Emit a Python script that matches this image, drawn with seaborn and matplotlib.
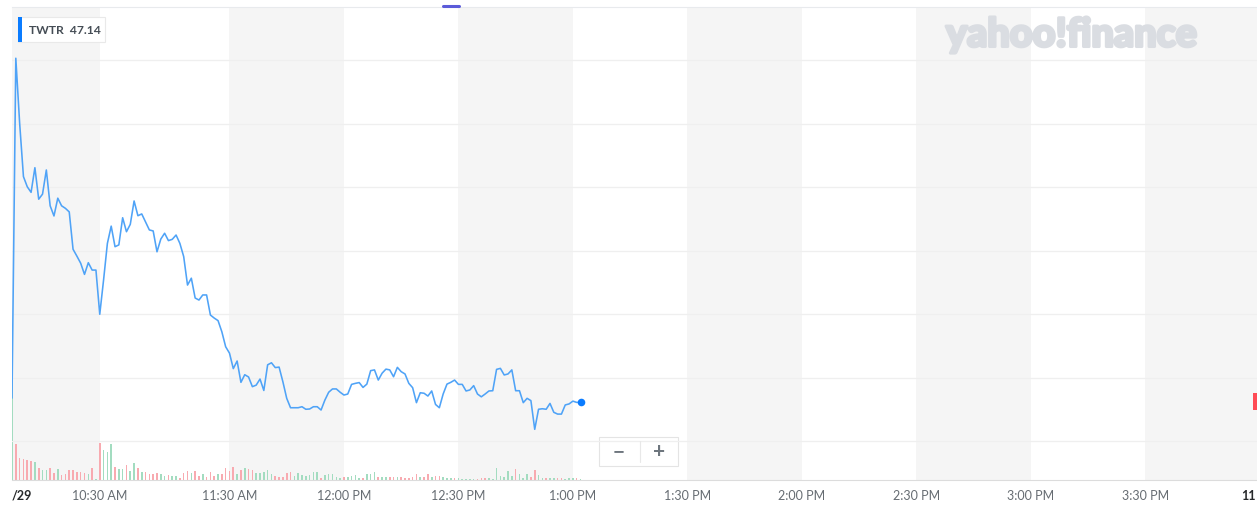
import numpy as np
import pandas as pd
import matplotlib.pyplot as plt
import matplotlib.patheffects as pe
from matplotlib.patches import FancyBboxPatch, Rectangle
from matplotlib.lines import Line2D
import seaborn as sns

# Intraday TWTR quotes (one point per bar, plotted on an ordinal axis like the site does)
price = [
    47.169, 48.507, 48.252, 48.041, 48.001, 47.979, 48.076, 47.952, 47.972, 48.067,
    47.926, 47.886, 47.956, 47.926, 47.916, 47.902, 47.755, 47.728, 47.700, 47.656,
    47.702, 47.673, 47.673, 47.499, 47.634, 47.778, 47.846, 47.765, 47.772, 47.879,
    47.824, 47.853, 47.945, 47.887, 47.894, 47.863, 47.831, 47.827, 47.745, 47.795,
    47.818, 47.789, 47.794, 47.811, 47.778, 47.726, 47.614, 47.641, 47.563, 47.555,
    47.575, 47.575, 47.496, 47.484, 47.474, 47.430, 47.371, 47.346, 47.285, 47.315,
    47.231, 47.261, 47.252, 47.214, 47.220, 47.244, 47.199, 47.300, 47.308, 47.289,
    47.291, 47.233, 47.168, 47.131, 47.131, 47.131, 47.135, 47.125, 47.126, 47.135,
    47.135, 47.122, 47.161, 47.192, 47.205, 47.205, 47.192, 47.181, 47.185, 47.223,
    47.227, 47.230, 47.211, 47.224, 47.277, 47.280, 47.240, 47.267, 47.283, 47.280,
    47.253, 47.290, 47.273, 47.264, 47.227, 47.210, 47.151, 47.190, 47.188, 47.177,
    47.197, 47.144, 47.131, 47.185, 47.224, 47.231, 47.240, 47.223, 47.223, 47.197,
    47.201, 47.218, 47.185, 47.174, 47.185, 47.197, 47.198, 47.282, 47.286, 47.260,
    47.264, 47.280, 47.198, 47.198, 47.151, 47.168, 47.159, 47.046, 47.125, 47.127,
    47.125, 47.148, 47.113, 47.106, 47.106, 47.142, 47.146, 47.157, 47.152, 47.152,
]

# volume per bar (thousand shares)
volume = [
    646, 214, 134, 126, 122, 116, 110, 74, 58, 58,
    74, 44, 68, 30, 36, 62, 58, 46, 50, 40,
    38, 74, 4, 220, 180, 170, 214, 80, 68, 68,
    88, 56, 100, 74, 46, 50, 38, 34, 44, 34,
    24, 28, 22, 24, 14, 44, 54, 44, 54,
    26, 34, 16, 50, 24, 36, 38, 70, 56, 80,
    38, 60, 70, 64, 58, 44, 44, 50, 58, 34,
    24, 20, 20, 40, 50, 24, 40, 28, 26, 30,
    50, 50, 14, 30, 34, 34, 20, 14, 16, 18,
    26, 28, 14, 10, 34, 34, 50, 16, 20, 20, 20,
    20, 20, 20, 10, 14, 16, 34, 20, 20, 34,
    16, 26, 24, 16, 14, 10, 14, 14, 6, 6,
    8, 6, 4, 14, 10, 10, 4, 74, 26, 20,
    54, 26, 66, 34, 10, 34, 20, 58, 30, 14,
    10, 14, 10, 14, 10, 6, 10, 14, 10, 8,
]

# G = up bar, R = down bar
bar_dir = list(
    "GRRRRRGRGG" "RRGRRRRRRR" "GRGRGGGRGG" "RGGRGRRRRG" "GRGGRRRGR"
    "RGRRRGRRRR" "GRGRRGGGGG" "RRRRRGGGGG" "GGRGGGGGRG" "GGGRGGGRGGR"
    "RGRRRRRGRR" "GRRGGGRGGG" "GGRRRGGGGG" "GGRGGGRRGG" "RGGRRGGGRG"
)

tick_idx = [0, 23, 57, 87, 117, 147, 177, 207, 237, 267, 297, 324]
tick_labels = ["/29", "10:30 AM", "11:30 AM", "12:00 PM", "12:30 PM", "1:00 PM",
               "1:30 PM", "2:00 PM", "2:30 PM", "3:00 PM", "3:30 PM", "11"]
grid_levels = [47.00, 47.25, 47.50, 47.75, 48.00, 48.25, 48.50]
ticker = "TWTR"
quote = 47.14

sns.set_style("white")
plt.rcParams['font.family'] = ['Lato', 'DejaVu Sans']

df = pd.DataFrame({"idx": np.arange(len(price)), "price": price,
                   "volume": volume, "dir": bar_dir})

W, H = 1257, 505
fig = plt.figure(figsize=(W / 100, H / 100), dpi=100)
ax = fig.add_axes([12 / W, 25 / H, 1245 / W, 473 / H])
axv = ax.twinx()
ax.set_zorder(axv.get_zorder() + 1)
ax.patch.set_visible(False)

xmax = 326.3

# alternating session bands
bounds = tick_idx[:-1] + [xmax]
for i, (a, b) in enumerate(zip(bounds[:-1], bounds[1:])):
    if i % 2 == 0:
        axv.axvspan(a, b, color='#f5f5f5', lw=0, zorder=0)

# volume bars
sns.barplot(data=df, x="idx", y="volume", hue="dir", native_scale=True,
            palette={"G": "#a3dcc0", "R": "#f8aab0"}, saturation=1,
            width=0.42, dodge=False, errorbar=None, linewidth=0,
            legend=False, ax=axv)
axv.set_ylim(0, max(volume) * 4.39)
axv.set_yticks([])
axv.set_ylabel("")
for s in axv.spines.values():
    s.set_visible(False)

# price line
sns.lineplot(data=df, x="idx", y="price", color='#4fa3f7', linewidth=1.15, ax=ax)
ax.scatter(df["idx"].iloc[-1], df["price"].iloc[-1], s=30, color='#0b7cff',
           zorder=5, linewidths=0)

ax.set_xlim(0, xmax)
ax.set_ylim(46.8465, 48.7087)
ax.set_yticks(grid_levels)
ax.yaxis.grid(True, color='#efefef', lw=0.9)
ax.tick_params(axis='y', left=False, right=False, labelleft=False)
ax.set_xlabel("")
ax.set_ylabel("")

ax.set_xticks(tick_idx, tick_labels)
ax.tick_params(axis='x', length=4, width=0.8, color='#d9d9d9',
               labelsize=9, labelcolor='#666c72', pad=3)
lbls = ax.get_xticklabels()
lbls[0].set_ha('left')
for lb in (lbls[0], lbls[-1]):
    lb.set_color('#26282a')
    lb.set_fontweight('bold')

for side in ('left', 'right'):
    ax.spines[side].set_visible(False)
ax.spines['bottom'].set_color('#dcdcdc')
ax.spines['top'].set_color('#e8eaed')

# last price tag on the right edge: only a red sliver is visible
fig.add_artist(Rectangle((1253 / W, 1 - 410 / H), 10 / W, 17 / H,
                         transform=fig.transFigure, fc='#ff4b55', ec='none'))

# quote badge
fig.add_artist(FancyBboxPatch((18 / W, 1 - 42 / H), 87 / W, 25 / H,
                              boxstyle='square,pad=0', transform=fig.transFigure,
                              fc='white', ec='#e9e9e9', lw=0.8))
fig.add_artist(Rectangle((18 / W, 1 - 42 / H), 4 / W, 25 / H,
                         transform=fig.transFigure, fc='#0a7cff', ec='none'))
fig.text(29 / W, 1 - 30 / H, f"{ticker}  {quote:.2f}", fontsize=8.7,
         color='#454d55', fontweight='bold', va='center', ha='left')

# watermark
fig.text(946 / W, 1 - 35 / H, "yahoo!finance", fontsize=28.5, fontweight='black',
         color='#dadde2', va='center', ha='left',
         path_effects=[pe.withStroke(linewidth=2.2, foreground='#dadde2')])

# zoom control
fig.add_artist(FancyBboxPatch((599 / W, 1 - 466 / H), 79 / W, 29 / H,
                              boxstyle='square,pad=0', transform=fig.transFigure,
                              fc='white', ec='#e4e4e4', lw=0.8))
fig.add_artist(Line2D([640 / W, 640 / W], [1 - 462 / H, 1 - 441 / H],
                      color='#e8e8e8', lw=0.8))
fig.text(619 / W, 1 - 452 / H, "\u2212", fontsize=15, color='#6e767e',
         fontweight='bold', ha='center', va='center')
fig.text(659 / W, 1 - 452 / H, "+", fontsize=15, color='#6e767e',
         fontweight='bold', ha='center', va='center')

# navigator handle at the top
fig.add_artist(Line2D([443 / W, 459 / W], [1 - 6 / H, 1 - 6 / H],
                      color='#5b5bd9', lw=2.2))

fig.savefig("out.png", dpi=100)
